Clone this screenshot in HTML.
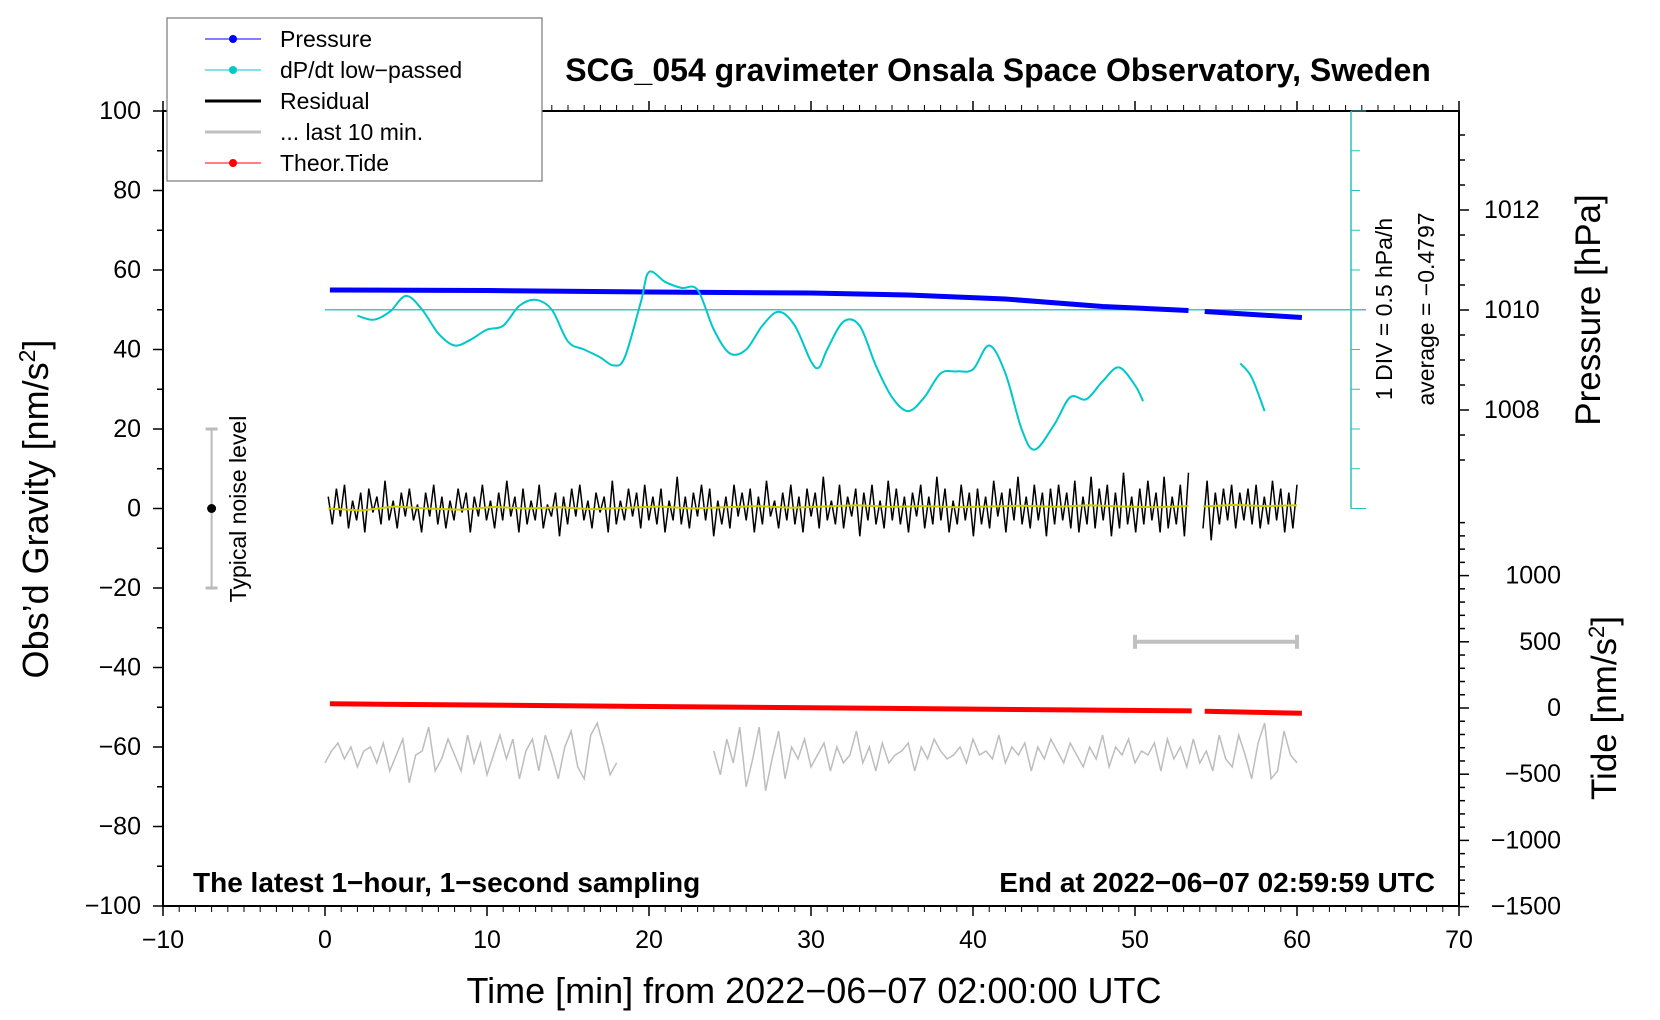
<!DOCTYPE html>
<html><head><meta charset="utf-8"><style>
html,body{margin:0;padding:0;background:#fff}
svg{display:block;font-family:"Liberation Sans",sans-serif}
</style></head><body>
<svg id="c" width="1660" height="1020" viewBox="0 0 1660 1020" xmlns="http://www.w3.org/2000/svg">
<g id="axes"></g>
<g id="marks"></g>
<g id="ann"></g>
</svg>
<script>
// ---- data ----
const pressT=[0.3,10,20,30,36,42,48,53.3];
const pressV=[1010.40,1010.39,1010.36,1010.34,1010.30,1010.22,1010.07,1009.99];
const pressT2=[54.3,60.3];
const pressV2=[1009.97,1009.85];
const dpT=[2,3,4,5,6,7,8,9,10,11,12,13,14,15,16,17,17.8,18.5,19.5,20,21,22,23,24,25,26,27,28,29,30,30.5,31,32,33,34,35,36,37,38,39,40,41,42,43,43.8,45,46,47,48,49,50,50.5];
const dpV=[-0.075,-0.125,-0.025,0.175,0,-0.3,-0.45,-0.375,-0.25,-0.2,0.05,0.125,0,-0.4,-0.5,-0.6,-0.7,-0.6,0.1,0.475,0.35,0.275,0.25,-0.25,-0.55,-0.5,-0.2,-0.025,-0.2,-0.65,-0.725,-0.5,-0.15,-0.2,-0.7,-1.1,-1.275,-1.1,-0.8,-0.775,-0.75,-0.45,-0.8,-1.5,-1.76,-1.45,-1.1,-1.125,-0.9,-0.725,-0.95,-1.15];
const dpT2=[56.5,57.2,58];
const dpV2=[-0.675,-0.85,-1.275];
const resid1=[3,-4,5,-2,6,-5,2,-3,4,-6,5,-1,3,-4,7,-3,2,-5,4,-2,5,-3,1,-6,4,-2,6,-4,3,-5,2,-3,5,-1,4,-6,3,-2,6,-3,2,-5,4,-3,7,-2,3,-6,5,-4,2,-3,6,-5,1,-2,4,-7,3,-4,5,-2,6,-3,2,-5,4,-1,3,-6,7,-4,2,-3,5,-2,4,-5,6,-3,3,-4,5,-6,2,-3,8,-4,3,-5,4,-2,6,-3,5,-7,2,-4,3,-5,6,-2,4,-3,5,-6,3,-4,7,-2,2,-5,4,-3,6,-4,3,-6,5,-2,4,-5,8,-3,2,-4,6,-5,3,-2,5,-7,4,-3,6,-4,2,-5,7,-3,5,-4,3,-6,4,-2,6,-5,3,-4,8,-3,5,-6,2,-4,6,-3,4,-7,5,-4,3,-5,7,-2,4,-6,5,-3,8,-4,3,-5,6,-3,4,-7,5,-4,6,-3,4,-5,7,-6,3,-4,8,-5,5,-3,6,-7,4,-5,9,-4,3,-6,5,-4,7,-3,4,-6,8,-5,3,-4,6,-7,9];
const resid2=[-5,7,-8,4,-4,5,-3,6,-5,4,-3,5,-4,6,-5,3,-4,7,-3,5,-6,4,-5,6];
const smooth1=[0,-0.5,0.5,0,-0.3,0.4,0,0.3,-0.2,0.2,0.5,0,0.3,0.6,0.2,0.5,0.8,0.4,0.6,0.3,0.5,0.7,0.4,0.8,0.5,0.3,0.6];
const smooth2=[0.5,0.9,0.6,0.8];
const last1=[-64,-61,-59,-63,-60,-65,-61,-60,-64,-59,-66,-62,-58,-69,-62,-61,-55,-66,-63,-58,-62,-66,-57,-64,-59,-67,-62,-57,-63,-58,-68,-61,-58,-66,-57,-62,-68,-60,-56,-65,-68,-57,-54,-60,-67,-64];
const last2=[-61,-67,-58,-64,-55,-70,-63,-55,-71,-63,-56,-68,-60,-63,-58,-65,-62,-59,-66,-60,-64,-62,-56,-64,-60,-66,-59,-64,-62,-61,-59,-66,-60,-63,-58,-61,-63,-62,-60,-64,-58,-62,-61,-63,-57,-64,-60,-62,-59,-66,-60,-63,-58,-61,-64,-59,-62,-65,-60,-63,-57,-65,-60,-62,-58,-64,-61,-62,-59,-66,-58,-63,-60,-65,-58,-64,-61,-66,-57,-63,-65,-57,-62,-68,-59,-54,-68,-66,-56,-62,-64];
const tideT=[0.3,53.5];
const tideV=[32,-22];
const tideT2=[54.3,60.3];
const tideV2=[-25,-40];
const xTicks=[-10,0,10,20,30,40,50,60,70];
const yTicks=[100,80,60,40,20,0,-20,-40,-60,-80,-100];
const pTicks=[1008,1010,1012];
const tTicks=[1000,500,0,-500,-1000,-1500];

// ---- scales ----
const L=163,R=1459,T=111,B=906;
const X=t=>L+(t+10)*(R-L)/80;
const Y=g=>T+(100-g)*3.975;
const YP=p=>310-(p-1010)*50;
const YD=d=>Y(50+d*20);
const YT=v=>708-v*0.1324;
const NS='http://www.w3.org/2000/svg';
function mk(tag,parent,at,txt){const e=document.createElementNS(NS,tag);for(const k in at)e.setAttribute(k,at[k]);if(txt!==undefined)e.textContent=txt;document.getElementById(parent).appendChild(e);return e;}
function poly(ts,vs,ys){return ts.map((t,i)=>X(t).toFixed(1)+','+ys(vs[i]).toFixed(1)).join(' ');}
function even(a,b,n){const r=[];for(let i=0;i<n;i++)r.push(a+(b-a)*i/(n-1));return r;}
function smoothPath(ts,vs,ys){const p=ts.map((t,i)=>[X(t),ys(vs[i])]);let d='M'+p[0][0]+','+p[0][1];for(let i=0;i<p.length-1;i++){const p0=p[i-1]||p[i],p1=p[i],p2=p[i+1],p3=p[i+2]||p2;d+=' C'+(p1[0]+(p2[0]-p0[0])/6)+','+(p1[1]+(p2[1]-p0[1])/6)+' '+(p2[0]-(p3[0]-p1[0])/6)+','+(p2[1]-(p3[1]-p1[1])/6)+' '+p2[0]+','+p2[1];}return d;}

// ---- axes frame ----
let e;
e=mk('rect','axes',{x:L,y:T,width:R-L,height:B-T,fill:'none',stroke:'#000','stroke-width':2});

for(let t=-10;t<=70;t++){const maj=t%10===0;
 mk('line','axes',{x1:X(t),x2:X(t),y1:B,y2:B+(maj?10:6),stroke:'#000','stroke-width':maj?1.5:1});
 mk('line','axes',{x1:X(t),x2:X(t),y1:T,y2:T-(maj?10:6),stroke:'#000','stroke-width':maj?1.5:1});}
xTicks.forEach(t=>{e=mk('text','axes',{x:X(t),y:948,'text-anchor':'middle','font-size':25},String(t).replace('-','\u2212'));
 });
for(let g=-100;g<=100;g+=10){const maj=g%20===0;mk('line','axes',{x1:L,x2:L-(maj?10:6),y1:Y(g),y2:Y(g),stroke:'#000','stroke-width':1.5});}
yTicks.forEach(g=>{e=mk('text','axes',{x:141,y:Y(g)+8,'text-anchor':'end','font-size':25},String(g).replace('-','\u2212'));
 });
for(let p=1007;p<=1013.5;p+=0.5){const maj=p%2===0;mk('line','axes',{x1:R,x2:R+(maj?10:6),y1:YP(p),y2:YP(p),stroke:'#000','stroke-width':1.5});}
pTicks.forEach(p=>{e=mk('text','axes',{x:1484,y:YP(p)+8,'font-size':25},String(p));
 });
for(let v=-1500;v<=1400;v+=100){const maj=v%500===0;mk('line','axes',{x1:R,x2:R+(maj?10:6),y1:YT(v),y2:YT(v),stroke:'#000','stroke-width':1.5});}
tTicks.forEach(v=>{e=mk('text','axes',{x:1561,y:YT(v)+8,'text-anchor':'end','font-size':25},String(v).replace('-','\u2212'));
 });
// dP/dt axis
const DX=1351;
mk('line','axes',{x1:DX,x2:DX,y1:YD(2.5),y2:YD(-2.5),stroke:'#2bbfbf','stroke-width':1.5});
for(let d=-2.5;d<=2.5;d+=0.5){mk('line','axes',{x1:DX,x2:DX+(Math.abs(d)>2.4||Math.abs(d)<0.01?15:9),y1:YD(d),y2:YD(d),stroke:'#2bbfbf','stroke-width':1});}
e=mk('line','axes',{x1:X(0),x2:DX+15,y1:YD(0),y2:YD(0),stroke:'#3cc8c8','stroke-width':1.5});


// ---- titles ----
e=mk('text','ann',{x:998,y:81,'text-anchor':'middle','font-size':32,'font-weight':'bold'},'SCG_054 gravimeter Onsala Space Observatory, Sweden');

e=mk('text','ann',{x:814,y:1003,'text-anchor':'middle','font-size':36},'Time [min] from 2022\u221206\u221207 02:00:00 UTC');

e=mk('text','ann',{transform:'translate(48,509) rotate(-90)','text-anchor':'middle','font-size':36});
e.innerHTML='Obs\u2019d Gravity [nm/s<tspan dy="-13" font-size="23">2</tspan><tspan dy="13">]</tspan>';

e=mk('text','ann',{transform:'translate(1600,310) rotate(-90)','text-anchor':'middle','font-size':35},'Pressure [hPa]');

e=mk('text','ann',{transform:'translate(1616,708) rotate(-90)','text-anchor':'middle','font-size':35});
e.innerHTML='Tide [nm/s<tspan dy="-12" font-size="22">2</tspan><tspan dy="12">]</tspan>';

e=mk('text','ann',{transform:'translate(1392,309) rotate(-90)','text-anchor':'middle','font-size':23},'1 DIV = 0.5 hPa/h');

e=mk('text','ann',{transform:'translate(1434,309) rotate(-90)','text-anchor':'middle','font-size':23},'average = \u22120.4797');

e=mk('text','ann',{x:193,y:892,'font-size':28,'font-weight':'bold'},'The latest 1\u2212hour, 1\u2212second sampling');

e=mk('text','ann',{x:1435,y:892,'text-anchor':'end','font-size':28,'font-weight':'bold'},'End at 2022\u221206\u221207 02:59:59 UTC');

// noise level
const NX=X(-7);
mk('line','ann',{x1:NX,x2:NX,y1:Y(20),y2:Y(-20),stroke:'#bbb','stroke-width':2});
mk('line','ann',{x1:NX-6,x2:NX+6,y1:Y(20),y2:Y(20),stroke:'#bbb','stroke-width':3});
mk('line','ann',{x1:NX-6,x2:NX+6,y1:Y(-20),y2:Y(-20),stroke:'#bbb','stroke-width':3});
e=mk('circle','ann',{cx:NX,cy:Y(0),r:4.5,fill:'#000'});

e=mk('text','ann',{transform:'translate(246,509) rotate(-90)','text-anchor':'middle','font-size':23},'Typical noise level');

// 10 min bar
mk('line','ann',{x1:X(50),x2:X(60),y1:YT(500),y2:YT(500),stroke:'#c0c0c0','stroke-width':4});
mk('line','ann',{x1:X(50),x2:X(50),y1:YT(500)-7,y2:YT(500)+7,stroke:'#c0c0c0','stroke-width':4});
mk('line','ann',{x1:X(60),x2:X(60),y1:YT(500)-7,y2:YT(500)+7,stroke:'#c0c0c0','stroke-width':4});

// ---- series ----
e=mk('polyline','marks',{points:poly(pressT,pressV,YP),fill:'none',stroke:'#0000ff','stroke-width':5});

e=mk('polyline','marks',{points:poly(pressT2,pressV2,YP),fill:'none',stroke:'#0000ff','stroke-width':5});

e=mk('path','marks',{d:smoothPath(dpT,dpV,YD),fill:'none',stroke:'#00c8c8','stroke-width':2});

e=mk('path','marks',{d:smoothPath(dpT2,dpV2,YD),fill:'none',stroke:'#00c8c8','stroke-width':2});

e=mk('polyline','marks',{points:poly(even(0.2,53.3,resid1.length),resid1,Y),fill:'none',stroke:'#000','stroke-width':1.5});

e=mk('polyline','marks',{points:poly(even(54.2,60,resid2.length),resid2,Y),fill:'none',stroke:'#000','stroke-width':1.5});

e=mk('polyline','marks',{points:poly(even(0.2,53.3,smooth1.length),smooth1,Y),fill:'none',stroke:'#cccc00','stroke-width':2});

e=mk('polyline','marks',{points:poly(even(54.2,60,smooth2.length),smooth2,Y),fill:'none',stroke:'#cccc00','stroke-width':2});

e=mk('polyline','marks',{points:poly(even(0,18,last1.length),last1,Y),fill:'none',stroke:'#bdbdbd','stroke-width':1.5});

e=mk('polyline','marks',{points:poly(even(24,60,last2.length),last2,Y),fill:'none',stroke:'#bdbdbd','stroke-width':1.5});

e=mk('polyline','marks',{points:poly(tideT,tideV,YT),fill:'none',stroke:'#ff0000','stroke-width':5});

e=mk('polyline','marks',{points:poly(tideT2,tideV2,YT),fill:'none',stroke:'#ff0000','stroke-width':5});


// ---- legend ----
e=mk('rect','ann',{x:167,y:18,width:375,height:163,fill:'#fff',stroke:'#777','stroke-width':1.2});

const legNames=['Pressure','dP/dt low\u2212passed','Residual','... last 10 min.','Theor.Tide'];
const legCols=['#0000ff','#00c8c8','#000','#c0c0c0','#ff0000'];
legNames.forEach((n,i)=>{const y=39+i*31;
 if(i===2||i===3){mk('line','ann',{x1:205,x2:261,y1:y,y2:y,stroke:legCols[i],'stroke-width':3});}
 else{mk('line','ann',{x1:205,x2:261,y1:y,y2:y,stroke:legCols[i],'stroke-width':1});mk('circle','ann',{cx:233,cy:y,r:4,fill:legCols[i]});}
 const t=mk('text','ann',{x:280,y:y+8,'font-size':23},n);
 });
</script>
</body></html>
